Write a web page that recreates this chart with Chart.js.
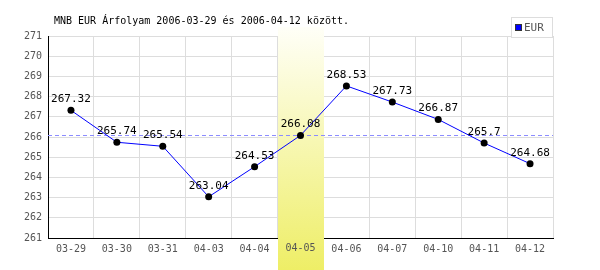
<!DOCTYPE html>
<html>
<head>
<meta charset="utf-8">
<script src="https://cdn.jsdelivr.net/npm/chart.js@4"></script>
<style>
    html, body { margin: 0; padding: 0; background: #fff; }
    canvas { display: block; }
</style>
</head>
<body>
<canvas id="rateChart" width="600" height="270"></canvas>
<script>
const dates = ['03-29', '03-30', '03-31', '04-03', '04-04', '04-05', '04-06', '04-07', '04-10', '04-11', '04-12'];
const eurRates = [267.32, 265.74, 265.54, 263.04, 264.53, 266.08, 268.53, 267.73, 266.87, 265.7, 264.68];
const avgRate = 266.1;
const highlightDate = '04-05';
const titleText = 'MNB EUR Árfolyam 2006-03-29 és 2006-04-12 között.';
const legendText = 'EUR';

const MONO = '"DejaVu Sans Mono", monospace';

// highlighted column, average line, title, legend and value labels
const decorations = {
    id: 'decorations',
    beforeDatasetsDraw(chart) {
        const { ctx, chartArea, scales } = chart;
        const x = scales.x, y = scales.y;
        const idx = dates.indexOf(highlightDate);
        const half = (x.getPixelForValue(1) - x.getPixelForValue(0)) / 2;
        const cx = x.getPixelForValue(idx);

        ctx.save();
        const grad = ctx.createLinearGradient(0, chartArea.top - 9, 0, 270);
        grad.addColorStop(0, '#fffff8');
        grad.addColorStop(1, '#eeee66');
        ctx.fillStyle = grad;
        ctx.fillRect(Math.round(cx - half), chartArea.top - 9, Math.round(half * 2), 270 - chartArea.top + 9);

        // redraw the tick label over the column
        ctx.font = '10px ' + MONO;
        ctx.fillStyle = '#555';
        ctx.textAlign = 'center';
        ctx.textBaseline = 'middle';
        ctx.fillText(highlightDate, cx, chartArea.bottom + 10);

        // average line
        const ay = Math.round(y.getPixelForValue(avgRate)) + 0.5;
        ctx.strokeStyle = '#8c8cff';
        ctx.lineWidth = 1;
        ctx.setLineDash([4, 3]);
        ctx.beginPath();
        ctx.moveTo(chartArea.left, ay);
        ctx.lineTo(chartArea.right, ay);
        ctx.stroke();
        ctx.restore();
    },
    afterDatasetsDraw(chart) {
        const { ctx } = chart;
        const meta = chart.getDatasetMeta(0);
        ctx.save();
        ctx.font = '11px ' + MONO;
        ctx.fillStyle = '#000';
        ctx.textAlign = 'center';
        ctx.textBaseline = 'middle';
        meta.data.forEach(function (pt, i) {
            ctx.fillText(String(eurRates[i]), pt.x, pt.y - 11);
        });
        ctx.restore();
    },
    afterDraw(chart) {
        const { ctx } = chart;
        ctx.save();
        ctx.font = '10px ' + MONO;
        ctx.fillStyle = '#000';
        ctx.textAlign = 'left';
        ctx.textBaseline = 'middle';
        ctx.fillText(titleText, 54, 21);

        // legend box
        ctx.fillStyle = '#fff';
        ctx.fillRect(511, 17, 42, 20);
        ctx.strokeStyle = '#ddd';
        ctx.lineWidth = 1;
        ctx.strokeRect(511.5, 17.5, 41, 20);
        ctx.fillStyle = '#0000ff';
        ctx.fillRect(515, 24, 6, 6);
        ctx.strokeStyle = '#333';
        ctx.strokeRect(515.5, 24.5, 6, 6);
        ctx.fillStyle = '#555';
        ctx.font = '11px ' + MONO;
        ctx.fillText(legendText, 524, 28);
        ctx.restore();
    }
};

new Chart(document.getElementById('rateChart').getContext('2d'), {
    type: 'line',
    data: {
        labels: dates,
        datasets: [{
            label: legendText,
            data: eurRates,
            borderColor: '#0000ff',
            borderWidth: 1,
            tension: 0,
            fill: false,
            pointRadius: 3.5,
            pointBackgroundColor: '#000',
            pointBorderWidth: 0
        }]
    },
    options: {
        responsive: false,
        animation: false,
        devicePixelRatio: 1,
        layout: {
            padding: { top: 36, right: 47, left: 0, bottom: 0 }
        },
        plugins: {
            legend: { display: false },
            title: { display: false },
            tooltip: { enabled: false }
        },
        scales: {
            x: {
                offset: true,
                grid: { color: '#ddd', offset: true, drawTicks: false },
                border: { display: true, color: '#000', width: 1 },
                ticks: {
                    color: '#555',
                    font: { family: MONO, size: 10 },
                    padding: 5,
                    maxRotation: 0,
                    autoSkip: false
                },
                afterFit(scale) { scale.height = 32; }
            },
            y: {
                min: 261,
                max: 271,
                grid: { color: '#ddd', drawTicks: false },
                border: { display: true, color: '#000', width: 1 },
                ticks: {
                    stepSize: 1,
                    color: '#555',
                    font: { family: MONO, size: 10 },
                    padding: 6
                },
                afterFit(scale) { scale.width = 48; }
            }
        }
    },
    plugins: [decorations]
});
</script>
</body>
</html>
